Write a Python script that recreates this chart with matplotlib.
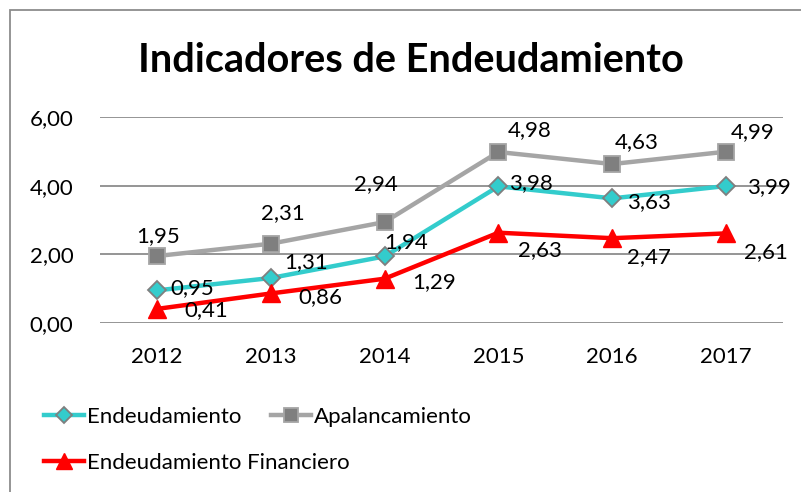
import matplotlib.pyplot as plt
from matplotlib.patches import Rectangle

years = ['2012', '2013', '2014', '2015', '2016', '2017']
endeudamiento = [0.95, 1.31, 1.94, 3.98, 3.63, 3.99]
apalancamiento = [1.95, 2.31, 2.94, 4.98, 4.63, 4.99]
financiero = [0.41, 0.86, 1.29, 2.63, 2.47, 2.61]

# label offsets in pixels from each point (labels were hand-placed in the original)
off_end = [(35, 2), (35, 16), (21, 14), (33, 3), (37, -4), (43, -1)]
off_apa = [(1, 20), (12, 31), (-9, 38), (31, 22), (24, 22), (27, 20)]
off_fin = [(49, -1), (50, -4), (49, -3), (42, -17), (37, -19), (40, -19)]

plt.rcParams['font.family'] = ['Lato', 'DejaVu Sans']

fig = plt.figure(figsize=(8.01, 4.92), dpi=100)
ax = fig.add_axes([100 / 801, 169 / 492, 683 / 801, 206 / 492])

x = range(len(years))

def fmt(v):
    return f'{v:.2f}'.replace('.', ',')

l1, = ax.plot(x, endeudamiento, color='#33CCCC', lw=3.2, marker='D', ms=9,
              mfc='#33CCCC', mec='#7F7F7F', mew=1.3, zorder=4)
l2, = ax.plot(x, apalancamiento, color='#A5A5A5', lw=3.2, marker='s', ms=12,
              mfc='#7F7F7F', mec='#A5A5A5', mew=1.3, zorder=3)
l3, = ax.plot(x, financiero, color='#FF0000', lw=3.2, marker='^', ms=13,
              mfc='#FF0000', mec='#FF0000', zorder=5)

fs = 16
for vals, offs in [(endeudamiento, off_end), (apalancamiento, off_apa), (financiero, off_fin)]:
    for i in x:
        ax.annotate(fmt(vals[i]), (i, vals[i]), xytext=offs[i], textcoords='offset pixels',
                    ha='center', va='center', fontsize=fs, zorder=6)

ax.set_xlim(-0.5, len(years) - 0.5)
ax.set_ylim(0, 6)
ax.set_yticks([0, 2, 4, 6])
ax.set_yticklabels([fmt(v) for v in [0, 2, 4, 6]])
ax.set_xticks(list(x))
ax.set_xticklabels(years)
ax.tick_params(length=0, labelsize=fs)
ax.tick_params(axis='x', pad=17)
ax.tick_params(axis='y', pad=19)

ax.grid(axis='y', color='#8C8C8C', lw=1.3)
ax.set_axisbelow(True)
for s in ax.spines.values():
    s.set_visible(False)

fig.text(411 / 801, 1 - 61 / 492, 'Indicadores de Endeudamiento', ha='center', va='center',
         fontsize=28.5, fontweight='bold')

# column-major legend order -> row1: Endeudamiento, Apalancamiento; row2: Financiero
fig.legend([l1, l3, l2], ['Endeudamiento', 'Endeudamiento Financiero', 'Apalancamiento'],
           loc='upper left', bbox_to_anchor=(24 / 801, 1 - 387 / 492), ncol=2, frameon=False,
           fontsize=fs, handlelength=1.8, handletextpad=0.15, columnspacing=-3.55,
           labelspacing=1.15, markerscale=0.85)

fig.patches.append(Rectangle((10 / 801, -0.05), 1.0, 1 - 10 / 492 + 0.05,
                             transform=fig.transFigure, fill=False,
                             edgecolor='#8C8C8C', lw=1.3))

fig.savefig('out.png', dpi=100)
